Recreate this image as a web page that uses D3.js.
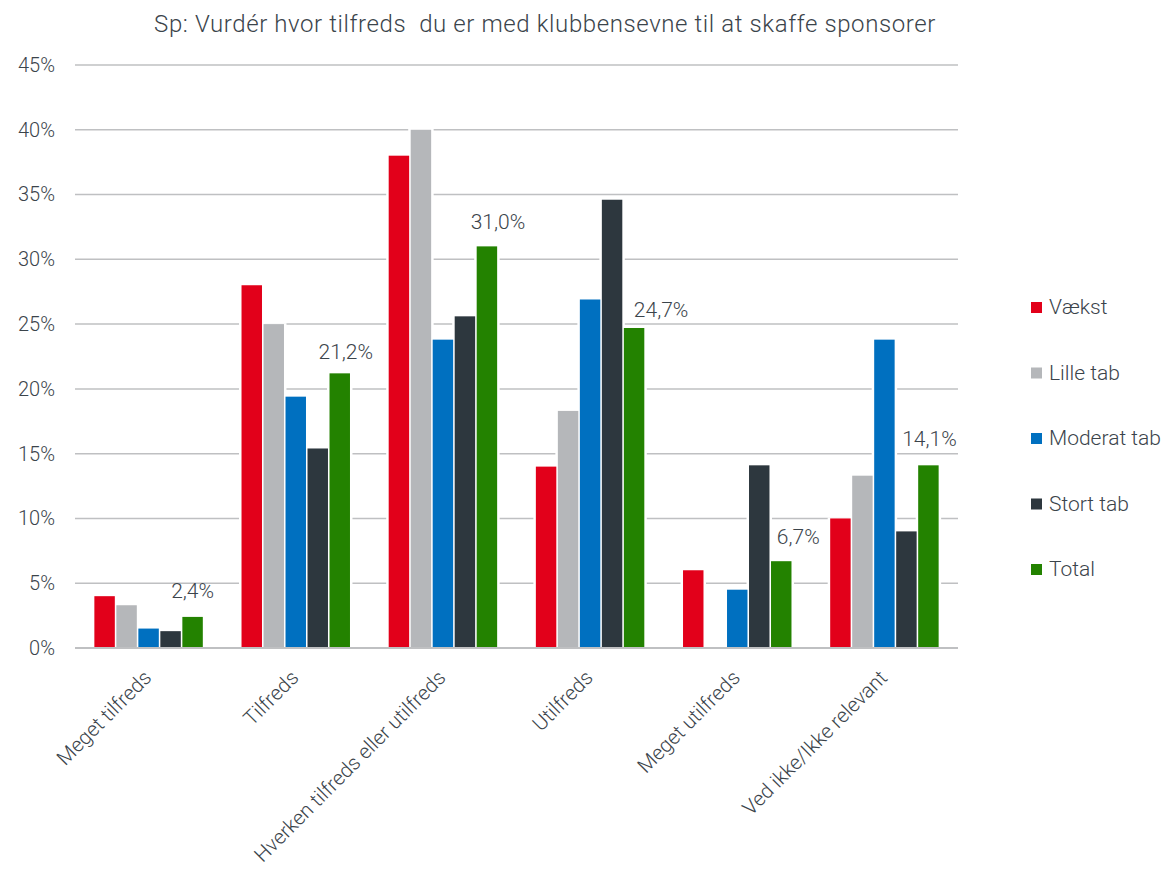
<!DOCTYPE html>
<html>
<head>
<meta charset="utf-8">
<script src="https://cdn.jsdelivr.net/npm/d3@7"></script>
<style>
  body { margin: 0; background: #fff; }
  text { font-family: Roboto, "Noto Sans", sans-serif; font-weight: 300; fill: #3b444b; }
</style>
</head>
<body>
<div id="chart"></div>
<script>
const WIDTH = 1164;
const HEIGHT = 871;
const MARGIN = { top: 65, right: 206, bottom: 223, left: 75 };

const TITLE = 'Sp: Vurdér hvor tilfreds  du er med klubbensevne til at skaffe sponsorer';
const categories = ['Meget tilfreds', 'Tilfreds', 'Hverken tilfreds eller utilfreds', 'Utilfreds', 'Meget utilfreds', 'Ved ikke/Ikke relevant'];
const seriesNames = ['Vækst', 'Lille tab', 'Moderat tab', 'Stort tab', 'Total'];
const seriesColors = ['#e2001a', '#b5b7ba', '#0070c0', '#2d373e', '#238200'];

const vaekst     = [4.0, 28.0, 38.0, 14.0, 6.0, 10.0];
const lilleTab   = [3.3, 25.0, 40.0, 18.3, 0, 13.3];
const moderatTab = [1.5, 19.4, 23.8, 26.9, 4.5, 23.8];
const stortTab   = [1.3, 15.4, 25.6, 34.6, 14.1, 9.0];
const total      = [2.4, 21.2, 31.0, 24.7, 6.7, 14.1];
const yTicks = [0, 5, 10, 15, 20, 25, 30, 35, 40, 45];

// hand-placed label nudges (dx, dy above bar top), as in the original
const LABEL_NUDGE = [[0, 19], [6, 14], [11, 17], [27, 11], [17, 17], [1, 19]];

const seriesValues = [vaekst, lilleTab, moderatTab, stortTab, total];

const svg = d3.select('#chart')
              .append('svg')
              .attr('width', WIDTH)
              .attr('height', HEIGHT);

const plotRight = WIDTH - MARGIN.right;
const plotBottom = HEIGHT - MARGIN.bottom;

const xScale = d3.scaleBand()
                 .domain(categories)
                 .range([MARGIN.left, plotRight]);

const innerScale = d3.scaleBand()
                     .domain(seriesNames)
                     .range([0, xScale.bandwidth()])
                     .paddingInner(0.07)
                     .paddingOuter(0.88);

const yScale = d3.scaleLinear()
                 .domain([0, 45])
                 .range([plotBottom, MARGIN.top]);

// Title
svg.append('text')
   .attr('x', 545)
   .attr('y', 32)
   .attr('text-anchor', 'middle')
   .style('font-size', '24px')
   .style('letter-spacing', '0.6px')
   .style('white-space', 'pre')
   .text(TITLE);

// Gridlines
svg.append('g')
   .selectAll('line')
   .data(yTicks)
   .enter()
   .append('line')
   .attr('x1', MARGIN.left)
   .attr('x2', plotRight)
   .attr('y1', d => yScale(d))
   .attr('y2', d => yScale(d))
   .attr('stroke', '#bfc0c2')
   .attr('stroke-width', d => d === 0 ? 2 : 1.5);

// Y axis labels
const yAxis = d3.axisLeft(yScale)
                .tickValues(yTicks)
                .tickFormat(d => d + '%')
                .tickSize(0)
                .tickPadding(20);
const yG = svg.append('g')
              .attr('transform', 'translate(' + MARGIN.left + ', 0)')
              .call(yAxis);
yG.select('.domain').remove();
yG.selectAll('text').style('font-size', '20px');

// Bars
const barData = (c, i) => seriesNames
  .map((s, j) => ({ series: s, value: seriesValues[j][i], color: seriesColors[j] }))
  .filter(d => d.value > 0);

const groups = svg.append('g')
                  .selectAll('g')
                  .data(categories)
                  .enter()
                  .append('g')
                  .attr('transform', d => 'translate(' + xScale(d) + ', 0)');

// white halo behind bars so gridlines stop short of them
groups.append('g')
      .selectAll('rect')
      .data(barData)
      .enter()
      .append('rect')
      .attr('x', d => innerScale(d.series) - 2.5)
      .attr('y', d => yScale(d.value) - 1)
      .attr('width', innerScale.bandwidth() + 5)
      .attr('height', d => plotBottom - yScale(d.value))
      .attr('fill', '#fff');

groups.append('g')
      .selectAll('rect')
      .data(barData)
      .enter()
      .append('rect')
      .attr('x', d => innerScale(d.series))
      .attr('y', d => yScale(d.value))
      .attr('width', innerScale.bandwidth())
      .attr('height', d => plotBottom - yScale(d.value) - 1)
      .attr('fill', d => d.color);

// Value labels on Total
groups.append('text')
      .attr('x', (c, i) => innerScale('Total') + innerScale.bandwidth() / 2 + LABEL_NUDGE[i][0])
      .attr('y', (c, i) => yScale(total[i]) - LABEL_NUDGE[i][1])
      .attr('text-anchor', 'middle')
      .style('font-size', '21px')
      .text((c, i) => total[i].toFixed(1).replace('.', ',') + '%');

// X axis category labels
const xAxis = d3.axisBottom(xScale).tickSize(0).tickPadding(0);
const xG = svg.append('g')
              .attr('transform', 'translate(0, ' + plotBottom + ')')
              .call(xAxis);
xG.select('.domain').remove();
xG.selectAll('text')
  .style('font-size', '20.5px')
  .attr('text-anchor', 'end')
  .attr('dy', 0)
  .attr('transform', 'translate(4, 31) rotate(-45)');

// Legend
const legend = svg.append('g')
                  .selectAll('g')
                  .data(seriesNames)
                  .enter()
                  .append('g')
                  .attr('transform', (d, i) => 'translate(1031, ' + (307 + i * 65.5) + ')');

legend.append('rect')
      .attr('x', 0)
      .attr('y', -5)
      .attr('width', 11)
      .attr('height', 11)
      .attr('fill', (d, i) => seriesColors[i]);

legend.append('text')
      .attr('x', 18)
      .attr('y', 7)
      .style('font-size', '21px')
      .text(d => d);
</script>
</body>
</html>
